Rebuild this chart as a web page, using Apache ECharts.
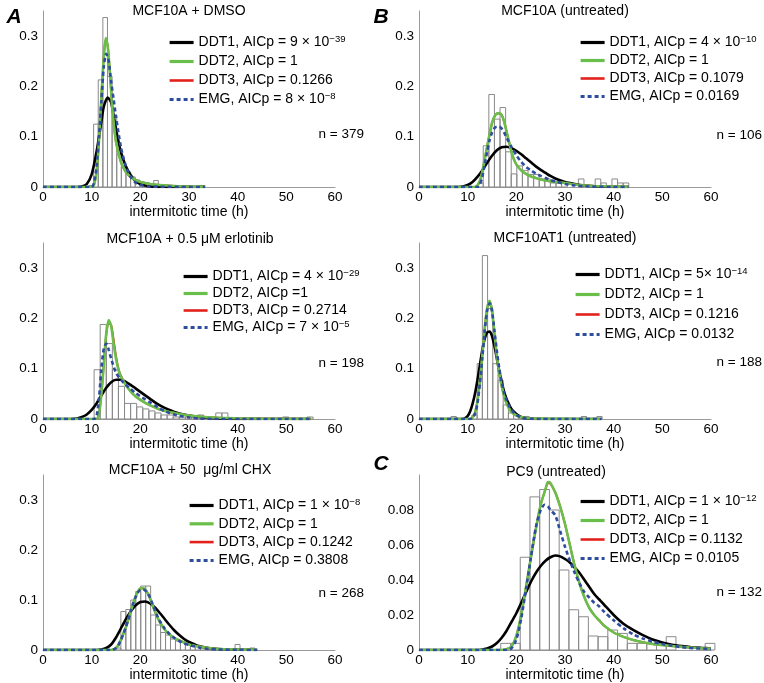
<!DOCTYPE html>
<html><head><meta charset="utf-8">
<script src="https://cdn.jsdelivr.net/npm/echarts@6/dist/echarts.min.js"></script>
<style>html,body{margin:0;padding:0;background:#fff}#c{width:764px;height:683px}</style>
</head><body><div id="c"></div>
<script>
// ---------- DATA ----------
const xTicks = [0, 10, 20, 30, 40, 50, 60];
const panelNames = ['A1', 'B1', 'A2', 'B2', 'A3', 'C'];
const panelTitles = ['MCF10A + DMSO', 'MCF10A (untreated)', 'MCF10A + 0.5 \u03bcM erlotinib', 'MCF10AT1 (untreated)', 'MCF10A + 50  \u03bcg/ml CHX', 'PC9 (untreated)'];
const panelCounts = ['n = 379', 'n = 106', 'n = 198', 'n = 188', 'n = 268', 'n = 132'];
const modelNames = ['DDT1', 'DDT2', 'DDT3', 'EMG'];
const legendA1 = ['DDT1, AICp = 9 \u00d7 10{sup|\u221239}', 'DDT2, AICp = 1', 'DDT3, AICp = 0.1266', 'EMG, AICp = 8 \u00d7 10{sup|\u22128}'];
const legendB1 = ['DDT1, AICp = 4 \u00d7 10{sup|\u221210}', 'DDT2, AICp = 1', 'DDT3, AICp = 0.1079', 'EMG, AICp = 0.0169'];
const legendA2 = ['DDT1, AICp = 4 \u00d7 10{sup|\u221229}', 'DDT2, AICp =1', 'DDT3, AICp = 0.2714', 'EMG, AICp = 7 \u00d7 10{sup|\u22125}'];
const legendB2 = ['DDT1, AICp = 5\u00d7 10{sup|\u221214}', 'DDT2, AICp = 1', 'DDT3, AICp = 0.1216', 'EMG, AICp = 0.0132'];
const legendA3 = ['DDT1, AICp = 1 \u00d7 10{sup|\u22128}', 'DDT2, AICp = 1', 'DDT3, AICp = 0.1242', 'EMG, AICp = 0.3808'];
const legendC  = ['DDT1, AICp = 1 \u00d7 10{sup|\u221212}', 'DDT2, AICp = 1', 'DDT3, AICp = 0.1132', 'EMG, AICp = 0.0105'];

// histogram bins: left edges, heights, bin widths
const A1_binWidth = 0.95;
const A1_binLeft = [9.45, 10.4, 11.35, 12.3, 13.25, 14.2, 15.15, 16.1, 17.05, 18.0, 18.95, 19.9, 20.85, 21.8, 22.75, 23.7, 24.65, 27.5, 29.4, 32.3];
const A1_binHeight = [0.003, 0.125, 0.213, 0.337, 0.22, 0.143, 0.064, 0.04, 0.03, 0.02, 0.014, 0.01, 0.008, 0.003, 0.013, 0.003, 0.003, 0.003, 0.003, 0.003];
const B1_binWidth = 1.15;
const B1_binLeft = [12.05, 13.2, 14.35, 15.5, 16.65, 17.8, 18.95, 20.1, 21.25, 22.4, 23.55, 24.7, 25.85, 27.0, 28.15, 29.3, 32.75, 36.2, 37.35, 39.65, 40.8, 41.95];
const B1_binHeight = [0.008, 0.082, 0.184, 0.135, 0.158, 0.07, 0.026, 0.042, 0.033, 0.025, 0.025, 0.016, 0.016, 0.008, 0.008, 0.008, 0.016, 0.016, 0.008, 0.016, 0.008, 0.008];
const A2_binWidth = 1.25;
const A2_binLeft = [10.5, 11.75, 13.0, 14.25, 15.5, 16.75, 18.0, 19.25, 20.5, 21.75, 23.0, 24.25, 25.5, 26.75, 28.0, 29.25, 30.5, 31.75, 35.5, 36.75, 49.25, 54.25];
const A2_binHeight = [0.098, 0.188, 0.15, 0.098, 0.065, 0.031, 0.031, 0.024, 0.02, 0.016, 0.012, 0.008, 0.008, 0.004, 0.004, 0.004, 0.004, 0.008, 0.012, 0.012, 0.004, 0.004];
const B2_binWidth = 1.07;
const B2_binLeft = [6.6, 10.88, 11.95, 13.02, 14.09, 15.16, 16.23, 17.3, 18.37, 19.44, 20.51, 21.58, 33.35, 36.56];
const B2_binHeight = [0.005, 0.008, 0.11, 0.325, 0.22, 0.11, 0.077, 0.028, 0.012, 0.008, 0.005, 0.005, 0.005, 0.005];
const A3_binWidth = 1.02;
const A3_binLeft = [14.98, 16.0, 17.02, 18.04, 19.06, 20.08, 21.1, 22.12, 23.14, 24.16, 25.18, 26.2, 27.22, 28.24, 29.26, 30.28, 31.3, 32.32, 33.34, 34.36, 39.46, 42.52];
const A3_binHeight = [0.004, 0.077, 0.081, 0.1, 0.117, 0.128, 0.128, 0.07, 0.05, 0.035, 0.03, 0.022, 0.018, 0.015, 0.011, 0.007, 0.007, 0.004, 0.004, 0.004, 0.011, 0.004];
const C_binWidth = 2.0;
const C_binLeft = [16.8, 18.8, 20.8, 22.8, 24.8, 26.8, 28.8, 30.8, 32.8, 34.8, 36.8, 38.8, 40.8, 42.8, 44.8, 46.8, 48.8, 50.8, 58.8];
const C_binHeight = [0.0038, 0.0038, 0.053, 0.0875, 0.0917, 0.08, 0.0457, 0.023, 0.019, 0.008, 0.0076, 0.0114, 0.0095, 0.0038, 0.0038, 0.0038, 0.0038, 0.0076, 0.0038];

// fitted curves [time, density]
const A1_DDT1 = [[0,0],[7,0],[8,0.001],[9,0.006],[10,0.025],[11,0.07],[12,0.13],[12.5,0.16],[13.3,0.178],[14,0.168],[15,0.115],[16,0.07],[17,0.042],[18,0.024],[19,0.012],[20,0.006],[21,0.003],[22,0.001],[25,0],[33.3,0]];
const A1_DDT2 = [[0,0],[10,0],[10.5,0.005],[11,0.03],[11.5,0.09],[12,0.18],[12.5,0.26],[12.9,0.296],[13.3,0.28],[13.8,0.22],[14.3,0.15],[15,0.09],[16,0.05],[17,0.03],[18,0.02],[19,0.014],[20,0.01],[22,0.006],[24,0.004],[27,0.002],[30,0.001],[33.3,0.0005]];
const A1_DDT3 = [[0,0],[10,0],[10.5,0.005],[11,0.03],[11.5,0.09],[12,0.18],[12.5,0.26],[12.9,0.295],[13.3,0.28],[13.8,0.22],[14.3,0.15],[15,0.09],[16,0.05],[17,0.03],[18,0.02],[19,0.014],[20,0.01],[22,0.006],[24,0.004],[27,0.002],[30,0.001],[33.3,0.0005]];
const A1_EMG  = [[0,0],[10,0],[10.5,0.01],[11,0.04],[11.5,0.1],[12,0.17],[12.5,0.24],[13,0.265],[13.5,0.25],[14,0.21],[14.5,0.175],[15,0.14],[16,0.08],[17,0.042],[18,0.02],[19,0.009],[20,0.004],[22,0.001],[33.3,0]];

const B1_DDT1 = [[0,0],[8,0],[9,0.001],[10,0.004],[11,0.01],[12,0.02],[13,0.033],[14,0.048],[15,0.062],[16,0.073],[17,0.079],[18,0.08],[19,0.077],[20,0.072],[21,0.065],[22,0.057],[23,0.049],[24,0.041],[25,0.034],[26,0.028],[27,0.022],[28,0.017],[30,0.01],[32,0.006],[34,0.003],[36,0.0015],[38,0.0007],[40,0.0003],[43,0]];
const B1_DDT2 = [[0,0],[11.5,0],[12,0.003],[12.5,0.012],[13,0.03],[13.5,0.055],[14,0.08],[14.5,0.105],[15,0.127],[15.5,0.14],[16,0.146],[16.5,0.147],[17,0.143],[17.5,0.13],[18,0.11],[18.5,0.09],[19,0.07],[19.5,0.055],[20,0.045],[21,0.033],[22,0.026],[23,0.021],[24,0.018],[25,0.015],[26,0.013],[28,0.01],[30,0.008],[32,0.005],[34,0.003],[36,0.002],[40,0.001],[43,0.0005]];
const B1_DDT3 = [[0,0],[11.5,0],[12,0.003],[12.5,0.012],[13,0.03],[13.5,0.055],[14,0.08],[14.5,0.105],[15,0.127],[15.5,0.14],[16,0.146],[16.5,0.146],[17,0.143],[17.5,0.13],[18,0.11],[18.5,0.09],[19,0.07],[19.5,0.055],[20,0.045],[21,0.033],[22,0.026],[23,0.021],[24,0.018],[25,0.015],[26,0.013],[28,0.01],[30,0.008],[32,0.005],[34,0.003],[36,0.002],[40,0.001],[43,0.0005]];
const B1_EMG  = [[0,0],[12,0],[12.5,0.005],[13,0.02],[13.5,0.045],[14,0.07],[14.5,0.093],[15,0.108],[15.5,0.117],[16,0.12],[16.5,0.12],[17,0.116],[17.5,0.108],[18,0.098],[19,0.08],[20,0.063],[21,0.05],[22,0.04],[23,0.033],[24,0.027],[25,0.022],[26,0.018],[27,0.014],[28,0.011],[30,0.006],[32,0.003],[35,0.001],[40,0],[43,0]];

const A2_DDT1 = [[0,0],[6,0],[7,0.001],[8,0.004],[9,0.009],[10,0.018],[11,0.031],[12,0.047],[13,0.062],[14,0.073],[15,0.078],[16,0.078],[17,0.074],[18,0.068],[19,0.061],[20,0.054],[21,0.047],[22,0.04],[23,0.033],[24,0.027],[25,0.022],[26,0.018],[27,0.014],[28,0.011],[30,0.007],[32,0.004],[34,0.002],[36,0.001],[40,0.0003],[55,0]];
const A2_DDT2 = [[0,0],[11,0],[11.5,0.01],[12,0.05],[12.5,0.11],[13,0.17],[13.5,0.197],[14,0.185],[14.5,0.15],[15,0.12],[15.5,0.098],[16,0.085],[17,0.068],[18,0.055],[19,0.045],[20,0.038],[21,0.032],[22,0.027],[23,0.023],[24,0.019],[25,0.016],[26,0.014],[28,0.01],[30,0.007],[32,0.005],[35,0.003],[40,0.0015],[45,0.0008],[50,0.0004],[55,0.0002]];
const A2_DDT3 = [[0,0],[11,0],[11.5,0.01],[12,0.05],[12.5,0.11],[13,0.168],[13.5,0.19],[14,0.187],[14.5,0.158],[15,0.125],[15.5,0.1],[16,0.086],[17,0.068],[18,0.055],[19,0.045],[20,0.038],[21,0.032],[22,0.027],[23,0.023],[24,0.019],[25,0.016],[26,0.014],[28,0.01],[30,0.007],[32,0.005],[35,0.003],[40,0.0015],[45,0.0008],[50,0.0004],[55,0.0002]];
const A2_EMG  = [[0,0],[10.5,0],[11,0.005],[11.5,0.04],[12,0.1],[12.5,0.14],[13,0.15],[13.5,0.138],[14,0.12],[15,0.092],[16,0.078],[17,0.068],[18,0.06],[19,0.052],[20,0.045],[21,0.039],[22,0.033],[23,0.027],[24,0.021],[25,0.016],[26,0.012],[27,0.009],[28,0.006],[30,0.003],[32,0.001],[35,0],[55,0]];

const B2_DDT1 = [[0,0],[9,0],[9.5,0.002],[10,0.006],[10.5,0.015],[11,0.03],[11.5,0.05],[12,0.077],[12.5,0.107],[13,0.137],[13.5,0.16],[14,0.172],[14.5,0.174],[15,0.165],[15.5,0.145],[16,0.12],[16.5,0.095],[17,0.073],[17.5,0.054],[18,0.04],[19,0.02],[20,0.01],[21,0.004],[22,0.0015],[24,0],[37.5,0]];
const B2_DDT2 = [[0,0],[10.5,0],[11,0.003],[11.5,0.012],[12,0.035],[12.5,0.075],[13,0.125],[13.5,0.18],[14,0.22],[14.5,0.235],[15,0.215],[15.5,0.17],[16,0.125],[16.5,0.09],[17,0.065],[17.5,0.045],[18,0.031],[18.5,0.021],[19,0.014],[20,0.007],[21,0.004],[22,0.002],[25,0.0007],[30,0.0002],[37.5,0]];
const B2_DDT3 = [[0,0],[10.5,0],[11,0.003],[11.5,0.012],[12,0.035],[12.5,0.075],[13,0.125],[13.5,0.18],[14,0.22],[14.5,0.234],[15,0.215],[15.5,0.17],[16,0.125],[16.5,0.09],[17,0.065],[17.5,0.045],[18,0.031],[18.5,0.021],[19,0.014],[20,0.007],[21,0.004],[22,0.002],[25,0.0007],[30,0.0002],[37.5,0]];
const B2_EMG  = [[0,0],[10.5,0],[11,0.002],[11.5,0.01],[12,0.03],[12.5,0.07],[13,0.12],[13.5,0.175],[14,0.215],[14.5,0.23],[15,0.215],[15.5,0.175],[16,0.135],[16.5,0.1],[17,0.073],[17.5,0.052],[18,0.037],[18.5,0.026],[19,0.018],[20,0.008],[21,0.003],[22,0.001],[25,0],[37.5,0]];

const A3_DDT1 = [[0,0],[11,0],[12,0.001],[13,0.004],[14,0.011],[15,0.025],[16,0.043],[17,0.061],[18,0.077],[19,0.089],[20,0.096],[21,0.097],[22,0.093],[23,0.085],[24,0.074],[25,0.062],[26,0.05],[27,0.039],[28,0.03],[29,0.022],[30,0.016],[31,0.012],[32,0.008],[34,0.004],[36,0.002],[38,0.001],[44,0]];
const A3_DDT2 = [[0,0],[14,0],[14.5,0.001],[15,0.004],[15.5,0.01],[16,0.02],[16.5,0.032],[17,0.045],[17.5,0.06],[18,0.076],[18.5,0.092],[19,0.106],[19.5,0.117],[20,0.123],[20.5,0.124],[21,0.121],[21.5,0.114],[22,0.103],[22.5,0.09],[23,0.077],[23.5,0.066],[24,0.056],[25,0.041],[26,0.031],[27,0.024],[28,0.019],[29,0.015],[30,0.011],[32,0.007],[34,0.004],[36,0.002],[40,0.001],[44,0.0004]];
const A3_DDT3 = [[0,0],[14,0],[14.5,0.001],[15,0.004],[15.5,0.01],[16,0.02],[16.5,0.032],[17,0.045],[17.5,0.06],[18,0.076],[18.5,0.092],[19,0.106],[19.5,0.117],[20,0.123],[20.5,0.123],[21,0.121],[21.5,0.114],[22,0.103],[22.5,0.09],[23,0.077],[23.5,0.066],[24,0.056],[25,0.041],[26,0.031],[27,0.024],[28,0.019],[29,0.015],[30,0.011],[32,0.007],[34,0.004],[36,0.002],[40,0.001],[44,0.0004]];
const A3_EMG  = [[0,0],[14,0],[14.5,0.001],[15,0.004],[15.5,0.01],[16,0.02],[16.5,0.032],[17,0.045],[17.5,0.06],[18,0.076],[18.5,0.092],[19,0.105],[19.5,0.115],[20,0.12],[20.5,0.121],[21,0.119],[21.5,0.113],[22,0.105],[22.5,0.092],[23,0.08],[23.5,0.068],[24,0.058],[25,0.043],[26,0.032],[27,0.024],[28,0.018],[29,0.013],[30,0.01],[32,0.005],[34,0.002],[36,0.001],[40,0.0003],[44,0]];

const C_DDT1 = [[0,0],[12,0],[13,0.0003],[14,0.0008],[15,0.002],[16,0.004],[17,0.007],[18,0.011],[19,0.016],[20,0.021],[21,0.027],[22,0.033],[23,0.039],[24,0.044],[25,0.048],[26,0.051],[27,0.053],[28,0.054],[29,0.0535],[30,0.052],[31,0.05],[32,0.047],[33,0.044],[34,0.04],[35,0.036],[36,0.032],[37,0.029],[38,0.026],[40,0.02],[42,0.015],[44,0.0115],[46,0.0085],[48,0.006],[50,0.0043],[52,0.003],[54,0.0022],[56,0.0016],[58,0.0012],[60,0.0009]];
const C_DDT2 = [[0,0],[17,0],[18,0.0005],[19,0.002],[20,0.008],[21,0.02],[22,0.036],[23,0.053],[24,0.069],[25,0.083],[26,0.092],[26.5,0.096],[27,0.0955],[28,0.09],[29,0.082],[30,0.072],[31,0.06],[32,0.048],[33,0.038],[34,0.03],[35,0.024],[36,0.02],[37,0.017],[38,0.014],[40,0.01],[42,0.0075],[44,0.0057],[46,0.0044],[48,0.0034],[50,0.0028],[52,0.0023],[54,0.0018],[56,0.0014],[58,0.001],[60,0.0008]];
const C_DDT3 = [[0,0],[17,0],[18,0.0005],[19,0.002],[20,0.008],[21,0.02],[22,0.036],[23,0.053],[24,0.069],[25,0.083],[26,0.092],[26.5,0.0955],[27,0.095],[28,0.09],[29,0.082],[30,0.072],[31,0.06],[32,0.048],[33,0.038],[34,0.03],[35,0.024],[36,0.02],[37,0.017],[38,0.014],[40,0.01],[42,0.0075],[44,0.0057],[46,0.0044],[48,0.0034],[50,0.0028],[52,0.0023],[54,0.0018],[56,0.0014],[58,0.001],[60,0.0008]];
const C_EMG  = [[0,0],[18,0],[19,0.001],[20,0.006],[21,0.018],[22,0.035],[23,0.053],[24,0.07],[25,0.08],[25.8,0.083],[26.5,0.082],[27,0.08],[28,0.077],[29,0.068],[30,0.059],[31,0.051],[32,0.044],[33,0.038],[34,0.033],[35,0.03],[36,0.027],[37,0.025],[38,0.022],[40,0.017],[42,0.0125],[44,0.009],[46,0.0065],[48,0.0048],[50,0.0034],[52,0.0024],[55,0.0013],[60,0.0005]];

// ---------- ASSEMBLY ----------
const panels = [
  {legend: legendA1, bw: A1_binWidth, bl: A1_binLeft, bh: A1_binHeight, curves: [A1_DDT1, A1_DDT2, A1_DDT3, A1_EMG], ymax: 0.35, yint: 0.1},
  {legend: legendB1, bw: B1_binWidth, bl: B1_binLeft, bh: B1_binHeight, curves: [B1_DDT1, B1_DDT2, B1_DDT3, B1_EMG], ymax: 0.35, yint: 0.1},
  {legend: legendA2, bw: A2_binWidth, bl: A2_binLeft, bh: A2_binHeight, curves: [A2_DDT1, A2_DDT2, A2_DDT3, A2_EMG], ymax: 0.35, yint: 0.1},
  {legend: legendB2, bw: B2_binWidth, bl: B2_binLeft, bh: B2_binHeight, curves: [B2_DDT1, B2_DDT2, B2_DDT3, B2_EMG], ymax: 0.35, yint: 0.1},
  {legend: legendA3, bw: A3_binWidth, bl: A3_binLeft, bh: A3_binHeight, curves: [A3_DDT1, A3_DDT2, A3_DDT3, A3_EMG], ymax: 0.35, yint: 0.1},
  {legend: legendC,  bw: C_binWidth,  bl: C_binLeft,  bh: C_binHeight,  curves: [C_DDT1, C_DDT2, C_DDT3, C_EMG], ymax: 0.1, yint: 0.02}
];

// layout (pixels)
const gridBoxes = [
  {left: 43, top: 11, width: 292, height: 176},
  {left: 419, top: 11, width: 292, height: 176},
  {left: 43, top: 243, width: 292, height: 176},
  {left: 419, top: 243, width: 292, height: 176},
  {left: 43, top: 475, width: 292, height: 175},
  {left: 419, top: 475, width: 292, height: 175}
];
const legendPos = [
  {left: 168, top: 34, gap: 2},
  {left: 579, top: 34, gap: 1},
  {left: 182, top: 268, gap: 0},
  {left: 574, top: 266, gap: 3},
  {left: 188, top: 497, gap: 1.3},
  {left: 579, top: 493, gap: 2}
];
const titlePos = [[189, 11], [565, 11], [190, 239], [565, 238], [190, 470], [556, 472]];
const countPos = [[364, 134], [762, 135], [364, 363], [762, 362], [364, 593], [762, 592]];
const letters = [['A', 14, 17], ['B', 381, 17], ['C', 381, 464]];

const FONT = '"Liberation Sans", Arial, Helvetica, sans-serif';
const colors = ['#000000', '#6abf4b', '#e3211c', '#2f4d9e'];
const widths = [2.6, 2.6, 2, 2.6];
const legendWidths = [3.2, 3.2, 2.6, 3];
const dashes = ['solid', 'solid', 'solid', [4, 3]];
const drawOrder = [0, 2, 1, 3];

const grid = [], xAxis = [], yAxis = [], series = [], legend = [], graphic = [];
const labelMap = {};

panels.forEach((p, i) => {
  grid.push(Object.assign({containLabel: false, outerBoundsMode: 'none'}, gridBoxes[i]));
  xAxis.push({
    type: 'value', gridIndex: i, min: 0, max: 60, interval: 10,
    axisLine: {show: true, lineStyle: {color: '#9a9a9a', width: 1}},
    axisTick: {show: false}, splitLine: {show: false},
    axisLabel: {color: '#000', fontFamily: FONT, fontSize: 13.5, margin: 3,
      formatter: v => xTicks.indexOf(v) >= 0 ? String(v) : ''},
    name: 'intermitotic time (h)', nameLocation: 'middle', nameGap: 14,
    nameTextStyle: {color: '#000', fontFamily: FONT, fontSize: 14}
  });
  yAxis.push({
    type: 'value', gridIndex: i, min: 0, max: p.ymax, interval: p.yint,
    axisLine: {show: true, lineStyle: {color: '#9a9a9a', width: 1}},
    axisTick: {show: false}, splitLine: {show: false},
    axisLabel: {color: '#000', fontFamily: FONT, fontSize: 13.5, margin: 5, showMaxLabel: false,
      formatter: v => { const r = Math.round(v * 1000) / 1000; return String(r); }}
  });
  // histogram
  const hist = [];
  p.bl.forEach((l, k) => { if (p.bh[k] > 0) hist.push([l, l + p.bw, p.bh[k]]); });
  series.push({
    type: 'custom', xAxisIndex: i, yAxisIndex: i, data: hist, z: 1, silent: true,
    encode: {x: [0, 1], y: 2},
    renderItem: (params, api) => {
      const a = api.coord([api.value(0), api.value(2)]);
      const b = api.coord([api.value(1), 0]);
      return {type: 'rect', shape: {x: a[0], y: a[1], width: b[0] - a[0], height: b[1] - a[1]},
        style: {fill: 'rgba(255,255,255,0)', stroke: '#8a8a8a', lineWidth: 1}};
    }
  });
  const names = [];
  modelNames.forEach((m, j) => { const nm = panelNames[i] + ' ' + m; names.push(nm); labelMap[nm] = p.legend[j]; });
  drawOrder.forEach((j, k) => {
    series.push({
      type: 'line', name: names[j], xAxisIndex: i, yAxisIndex: i, data: p.curves[j],
      showSymbol: false, symbol: 'none', smooth: 0.25, z: 2 + k, silent: true,
      color: colors[j],
      lineStyle: {color: colors[j], width: widths[j], type: dashes[j]}
    });
  });
  legend.push({
    orient: 'vertical', left: legendPos[i].left, top: legendPos[i].top, itemGap: legendPos[i].gap,
    itemWidth: 24, itemHeight: 12, selectedMode: false, padding: 0,
    data: names.map((nm, j) => ({name: nm, lineStyle: {width: legendWidths[j], color: colors[j], type: dashes[j]}})),
    itemStyle: {opacity: 0},
    formatter: n => labelMap[n],
    textStyle: {color: '#000', fontFamily: FONT, fontSize: 14, lineHeight: 17,
      rich: {sup: {fontSize: 9.5, fontFamily: FONT, color: '#000', verticalAlign: 'top', lineHeight: 9}}}
  });
  graphic.push({type: 'text', x: titlePos[i][0], y: titlePos[i][1], silent: true,
    style: {text: panelTitles[i], font: '14px ' + FONT, fill: '#000', textAlign: 'center', textVerticalAlign: 'middle'}});
  graphic.push({type: 'text', x: countPos[i][0], y: countPos[i][1], silent: true,
    style: {text: panelCounts[i], font: '13.5px ' + FONT, fill: '#000', textAlign: 'right', textVerticalAlign: 'middle'}});
});
letters.forEach(l => graphic.push({type: 'text', x: l[1], y: l[2], silent: true,
  style: {text: l[0], font: 'italic bold 21px ' + FONT, fill: '#000', textAlign: 'center', textVerticalAlign: 'middle'}}));

const chart = echarts.init(document.getElementById('c'), null, {renderer: 'canvas'});
chart.setOption({animation: false, backgroundColor: '#fff', grid, xAxis, yAxis, series, legend, graphic});
</script></body></html>
